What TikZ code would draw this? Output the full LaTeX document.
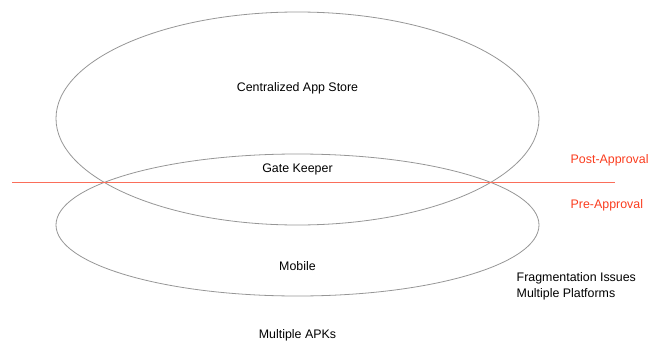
\documentclass[tikz,border=0pt]{standalone}
\usepackage{fontspec}
\setmainfont{Liberation Sans}
\usetikzlibrary{shapes.geometric}
\definecolor{ringgray}{RGB}{150,150,150}
\definecolor{approvalred}{RGB}{250,60,30}
\definecolor{linered}{RGB}{250,110,90}
\begin{document}
\begin{tikzpicture}[x=1pt,y=-1pt,
  ring/.style={ellipse,draw=ringgray,line width=0.8pt,inner sep=0pt},
  label/.style={font=\fontsize{12.4}{15}\selectfont,inner sep=0pt,text=black},
  redlabel/.style={label,text=approvalred,anchor=west},
  sidelabel/.style={label,anchor=west,align=left}]
  \useasboundingbox (0,0) rectangle (649,343);
  % the two overlapping rings
  \node[ring,minimum width=483pt,minimum height=213pt] (store) at (297.5,118.5) {};
  \node[ring,minimum width=483pt,minimum height=142pt] (mobile) at (297.5,225) {};
  % approval boundary
  \coordinate (lineL) at (12,182.5);
  \coordinate (lineR) at (615,182.5);
  \draw[linered,line width=1pt] (lineL) -- (lineR);
  % texts
  \node[label] (storetext) at (297.5,88) {Centralized App Store};
  \node[label] (gate) at (297.5,169) {Gate Keeper};
  \node[label] (mobtext) at (297.5,266) {Mobile};
  \node[label] (apks) at (297.5,335) {Multiple APKs};
  \node[redlabel] (post) at (570.5,160) {Post-Approval};
  \node[redlabel] (pre) at (570.5,205) {Pre-Approval};
  \node[sidelabel] (frag) at (516.5,278.5) {Fragmentation Issues};
  \node[sidelabel] (plat) at (516.5,294.5) {Multiple Platforms};
\end{tikzpicture}
\end{document}
